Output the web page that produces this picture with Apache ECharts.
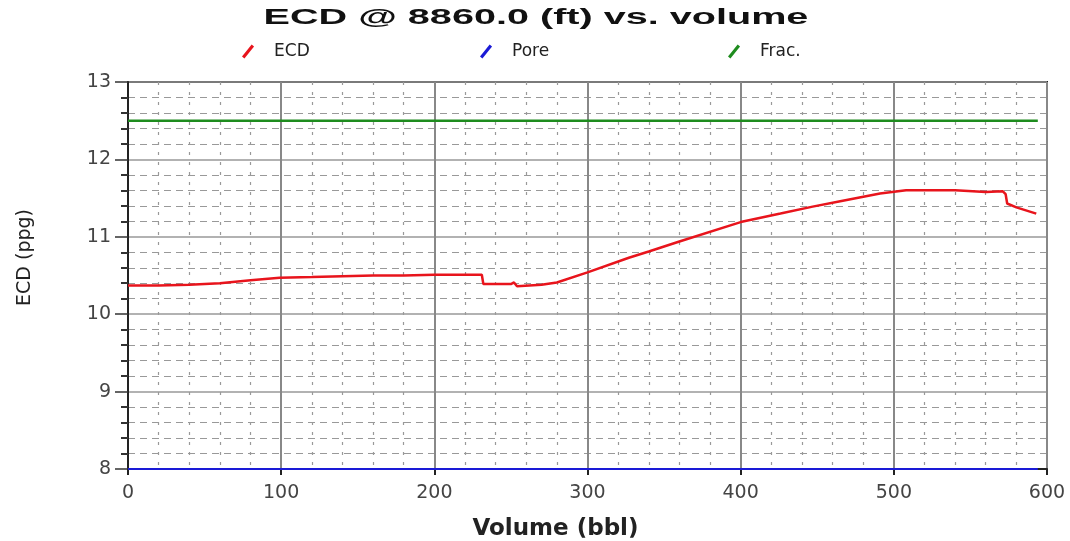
<!DOCTYPE html>
<html>
<head>
<meta charset="utf-8">
<script src="https://cdn.jsdelivr.net/npm/echarts@6/dist/echarts.min.js"></script>
<style>
html,body{margin:0;padding:0;background:#fff;}
#chart{width:1070px;height:541px;}
</style>
</head>
<body>
<div id="chart"></div>
<script>
// ECD (ppg) vs volume (bbl)
const titleText = 'ECD @ 8860.0 (ft) vs. volume';
const ecdVolume = [0,20,40,60,65,80,99,120,140,160,180,200,231,232,250,252,254,270,280,300,327,340,360,400,426,447,465,491,508,540,560,571,573,574,580,593];
const ecdValue  = [10.37,10.37,10.38,10.40,10.41,10.44,10.47,10.48,10.49,10.50,10.50,10.51,10.51,10.39,10.39,10.41,10.36,10.38,10.41,10.54,10.73,10.81,10.94,11.19,11.30,11.39,11.46,11.56,11.60,11.60,11.58,11.59,11.55,11.43,11.38,11.30];
const poreVolume = [0,594];
const poreValue  = [8,8];
const fracVolume = [0,594];
const fracValue  = [12.5,12.5];
const seriesNames = ['ECD','Pore','Frac.'];
const seriesColors = ['#e8141c','#1a1ad6','#1e8c1e'];

const zip = (a,b) => a.map((v,i)=>[v,b[i]]);
const FONT = '"DejaVu Sans", "Liberation Sans", sans-serif';
const icon = 'path://M0,10 L8,0 L10,1.6 L2,11.6 Z';
const legendLeft = [237, 475, 723];

const chart = echarts.init(document.getElementById('chart'));
chart.setOption({
  animation:false,
  backgroundColor:'#fff',
  graphic:[{
    type:'text', x:536, y:18, scaleX:1.8, scaleY:1,
    style:{text:titleText, font:'bold 22px "Liberation Sans", Arial, sans-serif',
           fill:'#111', textAlign:'center', textVerticalAlign:'middle'}
  }],
  legend: seriesNames.map((n,i)=>({
    data:[{name:n,icon:icon}],
    left:legendLeft[i], top:38,
    itemWidth:14, itemHeight:14, itemGap:10,
    textStyle:{fontFamily:FONT,fontSize:17,color:'#222',padding:[0,0,0,14]}
  })),
  grid:{left:128,right:23,top:82,bottom:72,containLabel:false,outerBoundsMode:'none',
        show:true,borderColor:'#222',borderWidth:2,backgroundColor:'#fff'},
  xAxis:{
    type:'value', min:0, max:600, interval:100,
    name:'Volume (bbl)', nameLocation:'middle', nameGap:49,
    nameTextStyle:{fontFamily:FONT,fontSize:23,fontWeight:'bold',color:'#222',padding:[0,64,0,0]},
    axisLine:{show:true,lineStyle:{color:'#222',width:2}},
    axisTick:{show:true,length:6,lineStyle:{color:'#222',width:2}},
    axisLabel:{fontFamily:FONT,fontSize:19,color:'#444',margin:15},
    splitLine:{show:true,lineStyle:{color:'#888',width:2}},
    minorTick:{show:false,splitNumber:5},
    minorSplitLine:{show:true,lineStyle:{color:'#999',width:1.2,type:[3,7]}}
  },
  yAxis:{
    type:'value', min:8, max:13, interval:1,
    name:'ECD (ppg)', nameLocation:'middle', nameGap:93, nameRotate:90,
    nameTextStyle:{fontFamily:FONT,fontSize:19,color:'#222',padding:[0,0,0,36]},
    axisLine:{show:true,lineStyle:{color:'#222',width:2}},
    axisTick:{show:true,length:13,lineStyle:{color:'#333',width:1.5}},
    axisLabel:{fontFamily:FONT,fontSize:19,color:'#444',margin:17},
    splitLine:{show:true,lineStyle:{color:'#999',width:1.5}},
    minorTick:{show:true,splitNumber:5,length:7,lineStyle:{color:'#333',width:2}},
    minorSplitLine:{show:true,lineStyle:{color:'#999',width:1.2,type:[7,5]}}
  },
  series:[
    {name:seriesNames[0],type:'line',data:zip(ecdVolume,ecdValue),showSymbol:false,symbol:'none',
     lineStyle:{color:seriesColors[0],width:2.5},itemStyle:{color:seriesColors[0]},z:5},
    {name:seriesNames[1],type:'line',data:zip(poreVolume,poreValue),showSymbol:false,symbol:'none',clip:false,
     lineStyle:{color:seriesColors[1],width:2},itemStyle:{color:seriesColors[1]},z:6},
    {name:seriesNames[2],type:'line',data:zip(fracVolume,fracValue),showSymbol:false,symbol:'none',
     lineStyle:{color:seriesColors[2],width:2.5},itemStyle:{color:seriesColors[2]},z:5}
  ]
});
</script>
</body>
</html>
